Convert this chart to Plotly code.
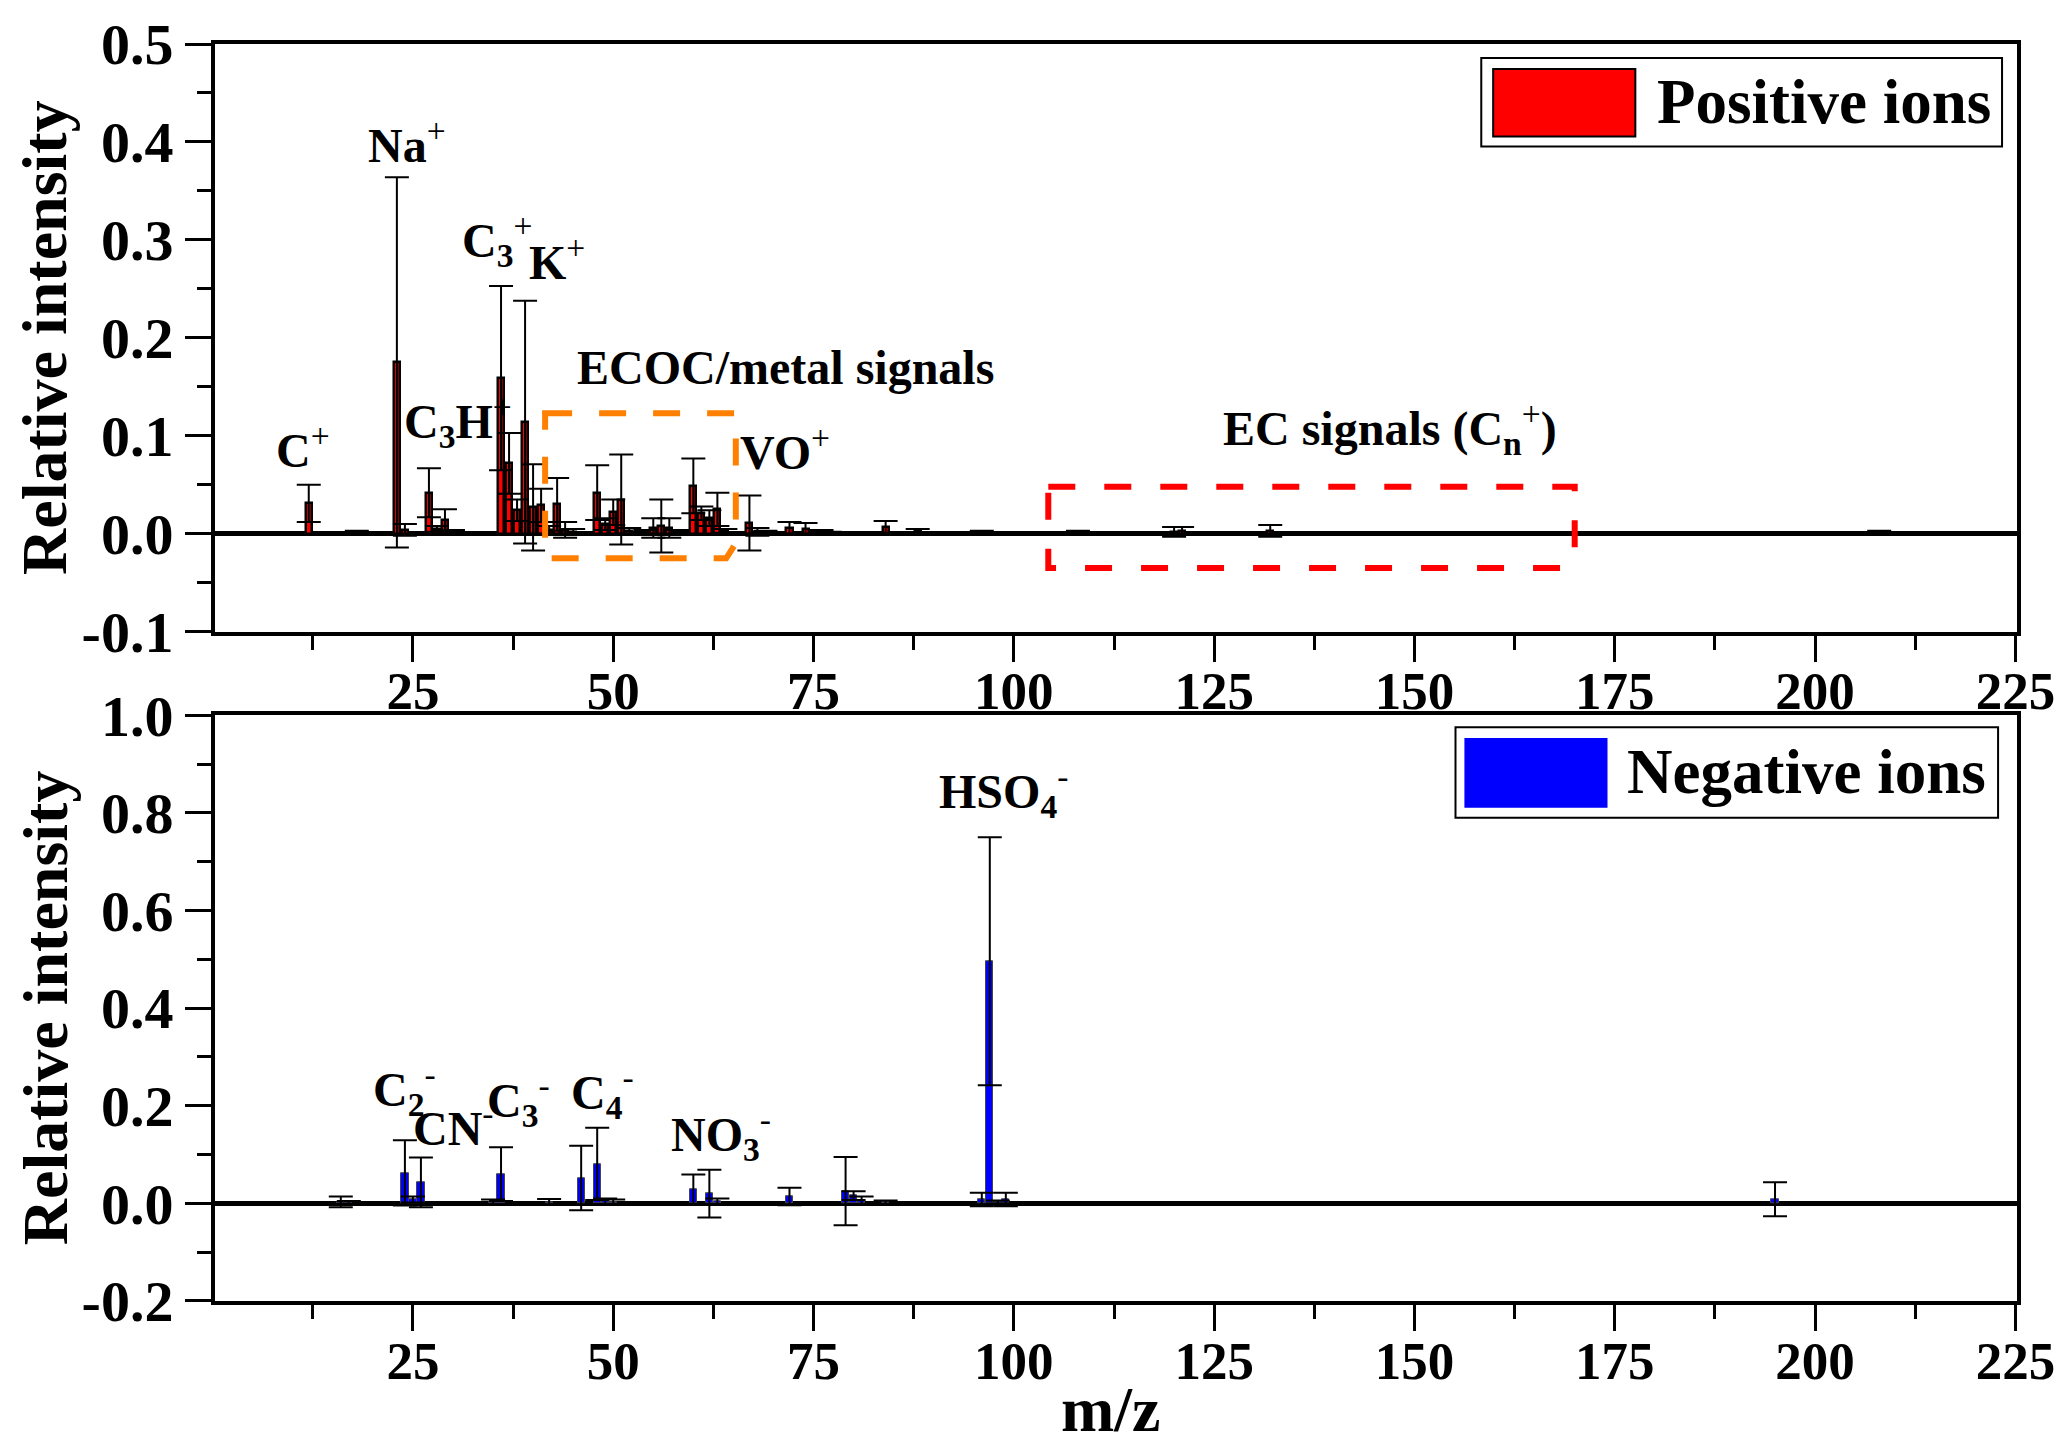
import plotly.graph_objects as go

# Positive ion spectrum (m/z, relative intensity, standard deviation)
pos_mz = [12, 18, 23, 24, 27, 28, 29, 30, 36, 37, 38, 39, 40, 41, 42, 43, 44, 45,
          48, 49, 50, 51, 52, 54, 55, 56, 57, 58, 60, 61, 62, 63, 64, 67, 68, 69,
          72, 74, 76, 77, 84, 88, 96, 108, 120, 121, 132, 208]
pos_val = [0.031, 0.001, 0.175, 0.004, 0.042, 0.005, 0.014, 0.002, 0.159, 0.072, 0.024, 0.114,
           0.027, 0.029, 0.004, 0.030, 0.004, 0.002, 0.042, 0.010, 0.022, 0.035, 0.003, 0.002,
           0.006, 0.008, 0.006, 0.002, 0.049, 0.021, 0.016, 0.025, 0.003, 0.011, 0.002, 0.001,
           0.006, 0.005, 0.002, 0.001, 0.007, 0.003, 0.002, 0.002, 0.002, 0.003, 0.003, 0.002]
pos_std = [0.019, 0.002, 0.189, 0.006, 0.025, 0.003, 0.011, 0.002, 0.094, 0.031, 0.011, 0.124,
           0.044, 0.017, 0.004, 0.027, 0.008, 0.003, 0.028, 0.006, 0.013, 0.046, 0.003, 0.002,
           0.010, 0.027, 0.010, 0.002, 0.028, 0.007, 0.008, 0.017, 0.002, 0.028, 0.004, 0.002,
           0.006, 0.006, 0.002, 0.001, 0.006, 0.002, 0.001, 0.001, 0.005, 0.004, 0.006, 0.001]

# Negative ion spectrum
neg_mz = [16, 17, 24, 25, 26, 35, 36, 42, 46, 48, 49, 50, 60, 62, 63, 72, 79, 80, 81, 84,
          96, 97, 98, 99, 108, 176, 195]
neg_val = [0.003, 0.002, 0.0625, 0.008, 0.043, 0.003, 0.060, 0.003, 0.052, 0.081, 0.004, 0.003,
           0.029, 0.020, 0.004, 0.014, 0.025, 0.016, 0.006, 0.002, 0.008, 0.496, 0.003, 0.008,
           0.002, 0.001, 0.0085]
neg_std = [0.011, 0.003, 0.067, 0.006, 0.051, 0.005, 0.055, 0.006, 0.066, 0.074, 0.006, 0.005,
           0.030, 0.049, 0.006, 0.018, 0.070, 0.009, 0.008, 0.004, 0.014, 0.254, 0.003, 0.014,
           0.001, 0.001, 0.035]

# peak labels
pos_labels = ["<b>C</b><sup>+</sup>", "<b>Na</b><sup>+</sup>", "<b>C<sub>3</sub></b><sup>+</sup>",
              "<b>K</b><sup>+</sup>", "<b>C<sub>3</sub>H</b><sup>+</sup>", "<b>ECOC/metal signals</b>",
              "<b>VO</b><sup>+</sup>", "<b>EC signals (C<sub>n</sub></b><sup>+</sup><b>)</b>"]
pos_label_x = [11.3, 24.3, 35.5, 43.0, 30.6, 71.5, 71.4, 147.0]
pos_label_y = [0.089, 0.400, 0.299, 0.281, 0.115, 0.170, 0.087, 0.108]

neg_labels = ["<b>C<sub>2</sub></b><sup>-</sup>", "<b>CN</b><sup>-</sup>", "<b>C<sub>3</sub></b><sup>-</sup>",
              "<b>C<sub>4</sub></b><sup>-</sup>", "<b>NO<sub>3</sub></b><sup>-</sup>",
              "<b>HSO<sub>4</sub></b><sup>-</sup>"]
neg_label_x = [23.9, 30.1, 38.2, 48.6, 63.4, 98.7]
neg_label_y = [0.233, 0.160, 0.211, 0.227, 0.141, 0.844]

# tick labels (hyphen minus as in the original)
pos_yticks = [-0.1, 0.0, 0.1, 0.2, 0.3, 0.4, 0.5]
pos_yticktext = ["-0.1", "0.0", "0.1", "0.2", "0.3", "0.4", "0.5"]
neg_yticks = [-0.2, 0.0, 0.2, 0.4, 0.6, 0.8, 1.0]
neg_yticktext = ["-0.2", "0.0", "0.2", "0.4", "0.6", "0.8", "1.0"]
xticks = [25, 50, 75, 100, 125, 150, 175, 200, 225]

# highlighted regions (drawn by hand in the original)
orange_box = [(41.5, 0.123), (65.3, 0.123), (65.3, -0.0096), (64.1, -0.025), (41.5, -0.025)]
red_box = [(104.3, 0.048), (170.0, 0.048), (170.0, -0.022), (168.8, -0.035), (104.3, -0.035)]

FONT = "Liberation Serif"

fig = go.Figure()

fig.add_trace(go.Bar(
    x=pos_mz, y=pos_val, width=0.75,
    marker=dict(color="#ff0000", line=dict(color="black", width=2.5)),
    error_y=dict(type="data", array=pos_std, color="black", thickness=2, width=12),
    xaxis="x", yaxis="y", name="Positive ions", showlegend=False
))
fig.add_trace(go.Bar(
    x=neg_mz, y=neg_val, width=0.9,
    marker=dict(color="#0000ff", line=dict(color="#444444", width=1)),
    error_y=dict(type="data", array=neg_std, color="black", thickness=2, width=12),
    xaxis="x2", yaxis="y2", name="Negative ions", showlegend=False
))

xtickfont = dict(family=FONT, size=53, color="black", weight="bold")
ytickfont = dict(family=FONT, size=58, color="black", weight="bold")
xcommon = dict(
    range=[0.3, 225.2], tickvals=xticks, ticks="outside", ticklen=26, tickwidth=3,
    tickcolor="black", showline=True, linecolor="black", linewidth=4, mirror=True,
    showgrid=False, zeroline=False, tickfont=xtickfont, ticklabelstandoff=-16,
    minor=dict(dtick=12.5, tick0=0, ticks="outside", ticklen=14, tickwidth=3, tickcolor="black"),
)
ycommon = dict(
    ticks="outside", ticklen=26, tickwidth=3, tickcolor="black", showline=True,
    linecolor="black", linewidth=4, mirror=True, showgrid=False,
    zeroline=True, zerolinecolor="black", zerolinewidth=5, tickfont=ytickfont,
)

fig.update_layout(
    width=2067, height=1449,
    margin=dict(l=215, r=39, t=37, b=148),
    paper_bgcolor="white", plot_bgcolor="white",
    barmode="overlay", bargap=0,
    xaxis=dict(domain=[0, 1], anchor="y", **xcommon),
    yaxis=dict(domain=[0.5324, 1], anchor="x", range=[-0.1, 0.5], tickvals=pos_yticks,
               ticktext=pos_yticktext,
               minor=dict(dtick=0.05, tick0=0, ticks="outside", ticklen=14, tickwidth=3,
                          tickcolor="black"),
               **ycommon),
    xaxis2=dict(domain=[0, 1], anchor="y2", **xcommon),
    yaxis2=dict(domain=[0, 0.466], anchor="x2", range=[-0.2, 1.0], tickvals=neg_yticks,
                ticktext=neg_yticktext,
                minor=dict(dtick=0.1, tick0=0, ticks="outside", ticklen=14, tickwidth=3,
                           tickcolor="black"),
                **ycommon),
)

labelfont = dict(family=FONT, size=48, color="black")
for t, x, y in zip(pos_labels, pos_label_x, pos_label_y):
    fig.add_annotation(text=t, x=x, y=y, xref="x", yref="y", showarrow=False,
                       font=labelfont, xanchor="center", yanchor="middle")
for t, x, y in zip(neg_labels, neg_label_x, neg_label_y):
    fig.add_annotation(text=t, x=x, y=y, xref="x2", yref="y2", showarrow=False,
                       font=labelfont, xanchor="center", yanchor="middle")

# axis titles
titlefont = dict(family=FONT, size=64, color="black", weight="bold")
for yc in [(0.5324 + 1) / 2, 0.466 / 2]:
    fig.add_annotation(text="Relative intensity", x=-0.0943, y=yc, xref="paper", yref="paper",
                       showarrow=False, textangle=-90, font=titlefont,
                       xanchor="center", yanchor="middle")
fig.add_annotation(text="m/z", x=0.497, y=-0.086, xref="paper", yref="paper", showarrow=False,
                   font=titlefont, xanchor="center", yanchor="middle")


def box_path(points):
    return "M " + " L ".join(f"{x},{y}" for x, y in points) + " Z"


fig.add_shape(type="path", path=box_path(orange_box), xref="x", yref="y",
              line=dict(color="#ff8000", width=6, dash="27px,27px"))
fig.add_shape(type="path", path=box_path(red_box), xref="x", yref="y",
              line=dict(color="#ff0000", width=6, dash="27px,29px"))

# legends drawn as boxes to match the large swatches
legends = [
    ("Positive ions", "#ff0000", "black", [0.7027, 0.9917, 0.9185, 0.9889],
     [0.7093, 0.7882, 0.9264, 0.9802], 0.7992, 0.9537),
    ("Negative ions", "#0000ff", "#0000ff", [0.6884, 0.9895, 0.3845, 0.4565],
     [0.6939, 0.7722, 0.3932, 0.4470], 0.7827, 0.4205),
]
for name, fill, edge, box, sw, tx, ty in legends:
    fig.add_shape(type="rect", xref="paper", yref="paper", x0=box[0], x1=box[1],
                  y0=box[2], y1=box[3], line=dict(color="black", width=2),
                  fillcolor="white")
    fig.add_shape(type="rect", xref="paper", yref="paper", x0=sw[0], x1=sw[1],
                  y0=sw[2], y1=sw[3], line=dict(color=edge, width=2), fillcolor=fill)
    fig.add_annotation(text=name, x=tx, y=ty, xref="paper", yref="paper", showarrow=False,
                       xanchor="left", yanchor="middle",
                       font=dict(family=FONT, size=63, color="black", weight="bold"))

# drop the default page margin so the figure sits at the window's corner
fig.write_html("out.html", config={"displayModeBar": False},
               post_script="document.body.style.margin='0';document.body.style.overflow='hidden';")
